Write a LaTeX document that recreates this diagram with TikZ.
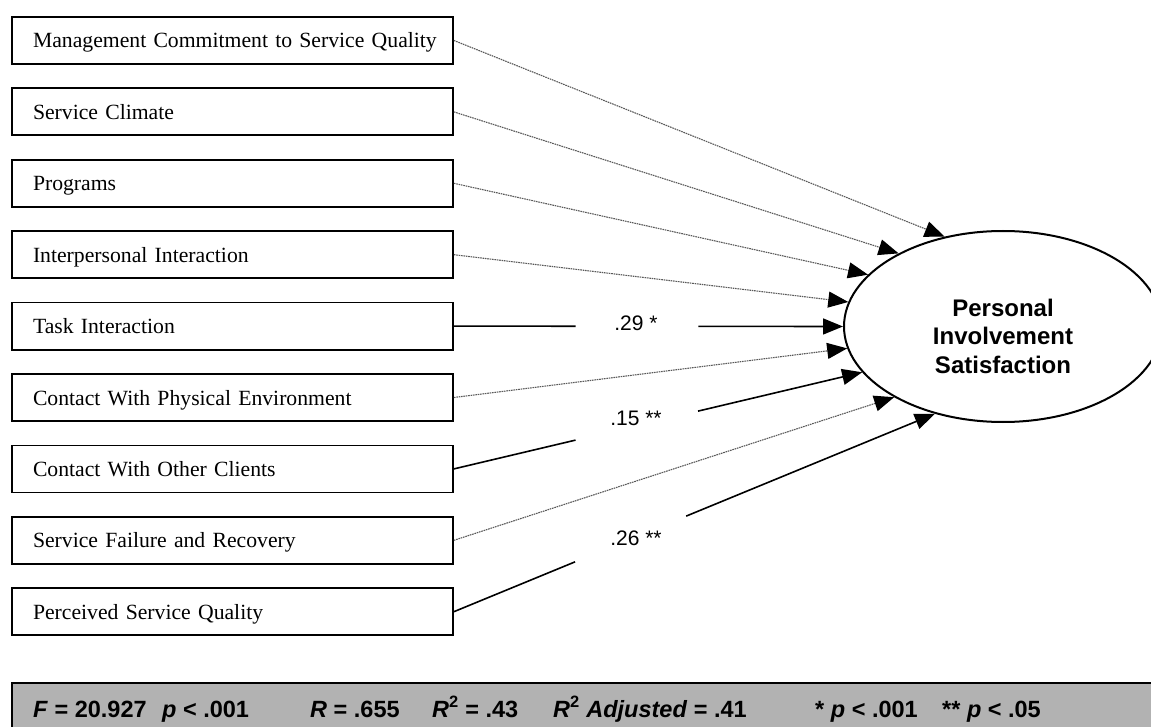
\documentclass[tikz,border=0pt]{standalone}
\usepackage{fontspec}
\setmainfont{Liberation Serif}
\newfontfamily\sansfont{Liberation Sans}
\usetikzlibrary{calc,arrows.meta,shapes.geometric}
\definecolor{barfill}{gray}{0.70}
\definecolor{dotline}{gray}{0.35}
\tikzset{
  varbox/.style   = {draw, line width=1.8pt, minimum width=441pt, minimum height=47pt,
                     text width=399pt, inner xsep=21pt, inner ysep=0pt, align=left,
                     text height=15pt, text depth=0pt,
                     font=\fontsize{21.7pt}{26pt}\selectfont},
  outcome/.style  = {ellipse, draw, line width=2pt, minimum width=318pt,
                     minimum height=191pt, inner sep=0pt},
  outtext/.style  = {align=center, inner sep=0pt,
                     font=\sansfont\bfseries\fontsize{24pt}{28.5pt}\selectfont},
  coef/.style     = {inner sep=0pt, font=\sansfont\fontsize{21pt}{25pt}\selectfont},
  effhead/.style  = {-{Triangle[length=20pt,width=16pt,color=black]}},
  nsline/.style   = {dotline, line width=1.1pt, dash pattern=on 1.6pt off 0.8pt},
  sigline/.style  = {black, line width=1.6pt},
  statline/.style = {anchor=base west, inner sep=0pt,
                     font=\sansfont\bfseries\fontsize{23.5pt}{28pt}\selectfont},
}

\begin{document}
\begin{tikzpicture}[x=1pt,y=-1pt]
  \useasboundingbox (0,0) rectangle (1151,727);
  \clip (0,0) rectangle (1151,727);
  % predictors
  \node[varbox] (b1) at (232.5, 40.5)  {\mbox{Management Commitment to Service Quality}};
  \node[varbox] (b2) at (232.5, 111.9) {Service Climate};
  \node[varbox] (b3) at (232.5, 183.3) {Programs};
  \node[varbox] (b4) at (232.5, 254.7) {Interpersonal Interaction};
  \node[varbox] (b5) at (232.5, 326.1) {Task Interaction};
  \node[varbox] (b6) at (232.5, 397.5) {Contact With Physical Environment};
  \node[varbox] (b7) at (232.5, 468.9) {Contact With Other Clients};
  \node[varbox] (b8) at (232.5, 540.3) {Service Failure and Recovery};
  \node[varbox] (b9) at (232.5, 611.7) {Perceived Service Quality};
  % outcome
  \node[outcome] (ps) at (1003, 326.5) {};
  \node[outtext] (pt) at (1003, 336) {Personal\\Involvement\\Satisfaction};
  % paths
  \draw[nsline, effhead] (b1.east) to (ps.123.7);
  \draw[nsline, effhead] (b2.east) to (ps.145.3);
  \draw[nsline, effhead] (b3.east) to (ps.159.3);
  \draw[nsline, effhead] (b4.east) to (ps.171);
  \coordinate (g5a) at ($(b5.east)!.313!(ps.180)$);
  \coordinate (g5b) at ($(b5.east)!.628!(ps.180)$);
  \draw[sigline] (b5.east) to (g5a);
  \draw[sigline, effhead] (g5b) to (ps.180);
  \draw[nsline, effhead] (b6.east) to (ps.188.6);
  \coordinate (g7a) at ($(b7.east)!.298!(ps.198.4)$);
  \coordinate (g7b) at ($(b7.east)!.598!(ps.198.4)$);
  \draw[sigline] (b7.east) to (g7a);
  \draw[sigline, effhead] (g7b) to (ps.198.4);
  \draw[nsline, effhead] (b8.east) to (ps.213.1);
  \coordinate (g9a) at ($(b9.east)!.252!(ps.232.7)$);
  \coordinate (g9b) at ($(b9.east)!.483!(ps.232.7)$);
  \draw[sigline] (b9.east) to (g9a);
  \draw[sigline, effhead] (g9b) to (ps.232.7);
  \node[coef] (c5) at (636, 323) {.29 *};
  \node[coef] (c7) at (636, 418) {.15 **};
  \node[coef] (c9) at (636, 538) {.26 **};
  % statistics bar
  \draw[line width=2pt, fill=barfill] (12, 683) rectangle (1170, 745);
  \node[statline] (st1) at (33, 717)  {\textit{F} = 20.927};
  \node[statline] (st2) at (162, 717) {\textit{p} < .001};
  \node[statline] (st3) at (310, 717) {\textit{R} = .655};
  \node[statline] (st4) at (432, 717) {\textit{R}\textsuperscript{2} = .43};
  \node[statline] (st5) at (553, 717) {\textit{R}\textsuperscript{2} \textit{Adjusted} = .41};
  \node[statline] (st6) at (815, 717) {* \textit{p} < .001};
  \node[statline] (st7) at (942, 717) {** \textit{p} < .05};
\end{tikzpicture}
\end{document}
